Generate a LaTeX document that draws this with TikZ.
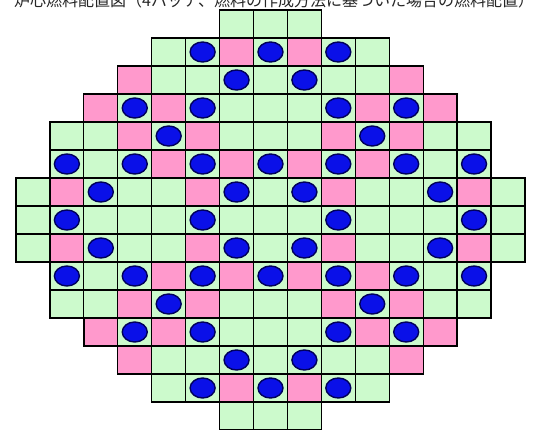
\documentclass[tikz,border=0pt]{standalone}
\usepackage{fontspec}
\newfontfamily\cjk{Noto Sans CJK JP}
\definecolor{cellgreen}{HTML}{CCFACC}
\definecolor{cellpink}{HTML}{FF99CC}
\definecolor{dotblue}{HTML}{0A10E8}
\definecolor{dotedge}{HTML}{00005A}
\begin{document}
\begin{tikzpicture}[x=1pt,y=-1pt,
  gridcell/.style={draw=black, line width=1.2pt, minimum width=33.93pt, minimum height=28pt, inner sep=0pt, outer sep=0pt},
  cellg/.style={gridcell, fill=cellgreen},
  cellp/.style={gridcell, fill=cellpink},
  cello/.style={gridcell, fill=cellgreen,
    path picture={\fill[dotblue, draw=dotedge, line width=1.4pt] (path picture bounding box.center) ellipse (12.5pt and 10pt);}},
  thickedge/.style={draw=black, line width=2.4pt, line cap=round}]
\useasboundingbox (0,0) rectangle (552,430);
\fill[white] (0,0) rectangle (552,430);
\begin{scope}
\clip (0,0) rectangle (552,430);
\node[anchor=base west, inner sep=0pt, text=black!85, font=\cjk\fontsize{16}{16}\selectfont] (title) at (14,6.5) {炉心燃料配置図（4バッチ、燃料の作成方法に基づいた場合の燃料配置）};
\end{scope}
\foreach \r/\s/\cols in {
  0/6/{g,g,g},
  1/4/{g,o,p,o,p,o,g},
  2/3/{p,g,g,o,g,o,g,g,p},
  3/2/{p,o,p,o,g,g,g,o,p,o,p},
  4/1/{g,g,p,o,p,g,g,g,p,o,p,g,g},
  5/1/{o,g,o,p,o,p,o,p,o,p,o,g,o},
  6/0/{g,p,o,g,g,p,o,g,o,p,g,g,o,p,g},
  7/0/{g,o,g,g,g,o,g,g,g,o,g,g,g,o,g},
  8/0/{g,p,o,g,g,p,o,g,o,p,g,g,o,p,g},
  9/1/{o,g,o,p,o,p,o,p,o,p,o,g,o},
  10/1/{g,g,p,o,p,g,g,g,p,o,p,g,g},
  11/2/{p,o,p,o,g,g,g,o,p,o,p},
  12/3/{p,g,g,o,g,o,g,g,p},
  13/4/{g,o,p,o,p,o,g},
  14/6/{g,g,g}}{
  \foreach \t [count=\k from 0] in \cols {
    \pgfmathtruncatemacro\c{\s+\k}
    \node[cell\t] (c-\r-\c) at ({16+33.93*(\c+0.5)},{10+28*(\r+0.5)}) {};
  }
}
\draw[thickedge] (c-3-12.north west) -- (c-3-12.north east);
\draw[thickedge] (c-11-2.north west) -- (c-11-2.south west) -- (c-11-2.south east);
\end{tikzpicture}
\end{document}
